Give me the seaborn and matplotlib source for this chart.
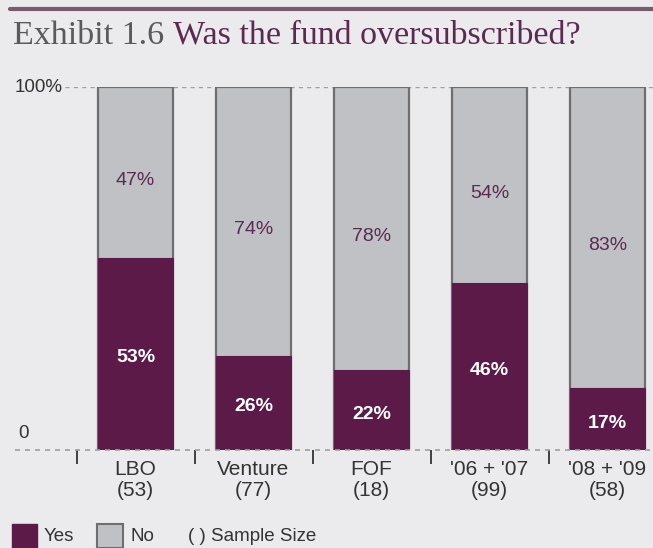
import matplotlib
matplotlib.use("Agg")
import matplotlib.pyplot as plt
import seaborn as sns
import pandas as pd
from matplotlib.patches import Rectangle
from matplotlib.lines import Line2D

categories = ["LBO", "Venture", "FOF", "'06 + '07", "'08 + '09"]
sample_sizes = [53, 77, 18, 99, 58]
yes_pct = [53, 26, 22, 46, 17]
no_pct = [47, 74, 78, 54, 83]

YES = "#5c1a48"
NO = "#c0c1c4"
EDGE = "#6e6e70"
BG = "#ebebed"
TXT = "#333333"

sns.set_theme(style="white")
plt.rcParams['font.family'] = ['Liberation Sans', 'DejaVu Sans']

W, H = 653, 548
fig = plt.figure(figsize=(W / 100, H / 100), dpi=100)
fig.patch.set_facecolor(BG)

ax_top, ax_bot = 87, 450
ax = fig.add_axes([0, 1 - ax_bot / H, 1, (ax_bot - ax_top) / H])
ax.set_facecolor(BG)

df = pd.DataFrame({
    "cat": categories,
    "yes": yes_pct,
    "total": [y + n for y, n in zip(yes_pct, no_pct)],
})

bw = 75 / 118
sns.barplot(data=df, x="cat", y="total", color=NO, width=bw, ax=ax,
            edgecolor=EDGE, linewidth=1.6, saturation=1)
sns.barplot(data=df, x="cat", y="yes", color=YES, width=bw, ax=ax,
            edgecolor=YES, linewidth=0.8, saturation=1)

c0, sp = 135.5, 118
ax.set_xlim((0 - c0) / sp, (W - c0) / sp)
ax.set_ylim(0, 100)

for s in ax.spines.values():
    s.set_visible(False)

# dashed grid / baseline
ax.axhline(100, xmin=65 / W, xmax=1, color="#a0a0a0", lw=1, ls=(0, (3, 3)), zorder=0)
ax.axhline(0, xmin=15 / W, xmax=1, color="#a0a0a0", lw=1.2, ls=(0, (3, 3)), zorder=3, clip_on=False)

ax.set_xlabel("")
ax.set_ylabel("")
ax.set_yticks([])
ax.set_xticks(range(len(categories)))
ax.set_xticklabels([f"{c}\n({n})" for c, n in zip(categories, sample_sizes)],
                   fontsize=15, color=TXT, linespacing=1.12)
ax.tick_params(axis="x", which="major", length=0, pad=7)
ax.set_xticks([i - 0.5 for i in range(len(categories))], minor=True)
ax.tick_params(axis="x", which="minor", length=10, width=1.3, color=TXT,
               direction="out", bottom=True)

for i, (y, n) in enumerate(zip(yes_pct, no_pct)):
    ax.annotate(f"{y}%", (i, y / 2), xytext=(0, -3), textcoords="offset points",
                ha="center", va="center", color="white",
                fontsize=14, fontweight="bold")
    ax.annotate(f"{n}%", (i, y + n / 2), xytext=(0, -6), textcoords="offset points",
                ha="center", va="center", color="#5a2a50", fontsize=14)

ax.text((15 - c0) / sp, 100, "100%", ha="left", va="center", fontsize=13.5, color=TXT)
ax.text((18 - c0) / sp, 4.5, "0", ha="left", va="center", fontsize=13.5, color=TXT)

# top rule and title
fig.add_artist(Line2D([10 / W, 1], [1 - 9 / H, 1 - 9 / H], color="#7a5a6e", lw=3))
t1 = fig.text(13 / W, 1 - 44 / H, "Exhibit 1.6 ", fontsize=24.5, color="#5a5a5a",
              family="Liberation Serif", va="baseline")
fig.canvas.draw()
bb = t1.get_window_extent()
fig.text(bb.x1 / W, 1 - 44 / H, "Was the fund oversubscribed?", fontsize=24.5,
         color="#5c2a50", family="Liberation Serif", va="baseline")

# legend
fig.add_artist(Rectangle((12 / W, 0), 25 / W, 24 / H, transform=fig.transFigure,
                         facecolor=YES, edgecolor=YES, lw=1))
fig.add_artist(Rectangle((97 / W, 0), 26 / W, 24 / H, transform=fig.transFigure,
                         facecolor=NO, edgecolor=EDGE, lw=1.5))
for x, s in [(44, "Yes"), (131, "No"), (188, "( ) Sample Size")]:
    fig.text(x / W, 1 - 541 / H, s, fontsize=13.5, color=TXT, va="baseline")

fig.savefig("out.png", dpi=100, facecolor=BG)
